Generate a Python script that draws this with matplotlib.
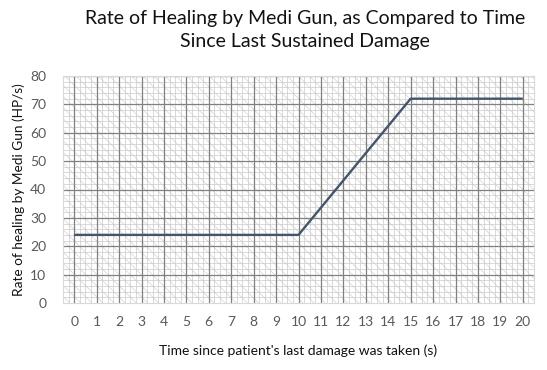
import matplotlib
matplotlib.use("Agg")
import matplotlib.pyplot as plt
from matplotlib.patches import Rectangle
import numpy as np

plt.rcParams['font.family'] = ['Lato', 'DejaVu Sans']
plt.rcParams['hatch.color'] = '#D4D4D4'
plt.rcParams['hatch.linewidth'] = 0.5

times = list(range(21))
rates = [24, 24, 24, 24, 24, 24, 24, 24, 24, 24, 24,
         33.6, 43.2, 52.8, 62.4, 72, 72, 72, 72, 72, 72]
title = "Rate of Healing by Medi Gun, as Compared to Time\nSince Last Sustained Damage"
xlabel = "Time since patient's last damage was taken (s)"
ylabel = "Rate of healing by Medi Gun (HP/s)"

fig = plt.figure(figsize=(5.47, 3.70), dpi=100)
ax = fig.add_axes([63/547, 1 - 303/370, (534-63)/547, (303-76)/370])

ax.set_xlim(-0.5, 20.5)
ax.set_ylim(0, 80)

# hatched background
ax.add_patch(Rectangle((0, 0), 1, 1, transform=ax.transAxes, facecolor='white',
                       edgecolor='#D4D4D4', hatch='\\\\\\', linewidth=0, zorder=0))

# minor gridlines
for xv in np.arange(-0.5, 20.5001, 0.25):
    ax.axvline(xv, color='#CACACA', lw=0.5, zorder=1)
for yv in np.arange(0, 80.001, 2):
    ax.axhline(yv, color='#CACACA', lw=0.5, zorder=1)
# major gridlines
for xv in times:
    ax.axvline(xv, color='#808080', lw=0.9, zorder=2)
for yv in range(10, 81, 10):
    ax.axhline(yv, color='#808080', lw=0.9, zorder=2)

ax.plot(times, rates, color='#44546A', lw=1.7, zorder=3, solid_capstyle='butt')

ax.set_xticks(times)
ax.set_xticklabels([str(t) for t in times])
ax.set_yticks(range(0, 81, 10))
ax.tick_params(length=0, labelsize=10, labelcolor='#595959')
ax.tick_params(axis='x', pad=9)
ax.tick_params(axis='y', pad=12)
for s in ax.spines.values():
    s.set_color('#D9D9D9')
    s.set_linewidth(0.8)

ax.set_xlabel(xlabel, fontsize=10, color='#111111', labelpad=12)
ax.set_ylabel(ylabel, fontsize=9.8, color='#111111', labelpad=4)
fig.text(305/547, 1 - 30/370, title, ha='center', va='center', fontsize=14,
         color='#111111', linespacing=1.45)

fig.savefig('out.png', dpi=100)
